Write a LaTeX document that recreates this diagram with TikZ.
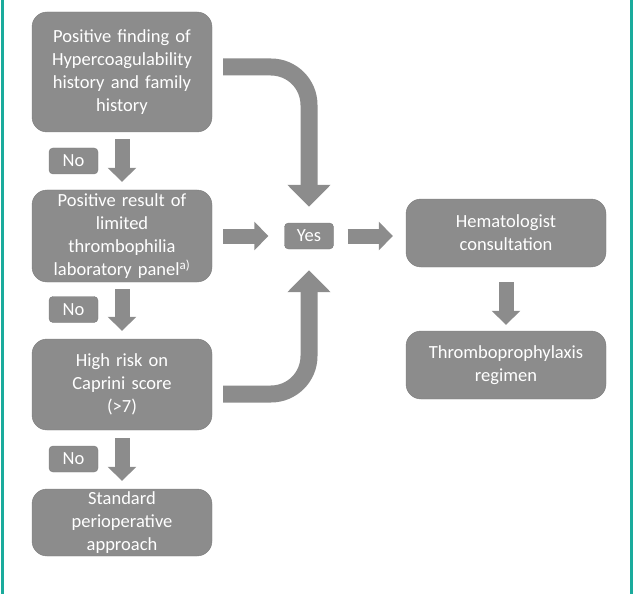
\documentclass[tikz,border=0pt]{standalone}
\usepackage{fontspec}
\setmainfont{Carlito}
\usetikzlibrary{arrows.meta}
\definecolor{boxgray}{HTML}{8C8C8C}
\definecolor{edgegray}{HTML}{7C7C7C}
\definecolor{frameteal}{HTML}{1AAB9C}
\newcommand{\boxfont}{\fontsize{18.5}{23}\selectfont}

\begin{document}
\begin{tikzpicture}[x=1pt,y=-1pt]
                \useasboundingbox (0,0) rectangle (633,594);
                \draw[frameteal,line width=3pt] (2.5,0) -- (2.5,594);
                \draw[frameteal,line width=3pt] (631.5,0) -- (631.5,594);

                \begin{scope}[every node/.style={draw=edgegray,fill=boxgray,text=white,
                    rounded corners=15pt,inner sep=0pt,align=center,font=\boxfont}]
                    \node[text width=180pt,minimum height=120pt] (hist) at (122,72)
                        {Positive finding of\\Hypercoagulability\\history and family\\history};
                    \node[text width=180pt,minimum height=92pt] (lab) at (122,236)
                        {Positive result of\\limited\\thrombophilia\\laboratory panel\textsuperscript{a)}};
                    \node[text width=180pt,minimum height=91pt] (caprini) at (122,384.5)
                        {High risk on\\Caprini score\\(>7)};
                    \node[text width=180pt,minimum height=67pt] (std) at (122,522.5)
                        {Standard\\perioperative\\approach};
                    \node[text width=200pt,minimum height=68pt] (hem) at (506,233)
                        {Hematologist\\consultation};
                    \node[text width=200pt,minimum height=68pt] (proph) at (506,365)
                        {Thromboprophylaxis\\regimen};
                \end{scope}

                \begin{scope}[every node/.style={draw=edgegray,fill=boxgray,text=white,
                    rounded corners=4pt,inner sep=0pt,minimum width=49pt,minimum height=26pt,font=\boxfont}]
                    \node (no1) at (73.5,161) {No};
                    \node (no2) at (73.5,309.5) {No};
                    \node (no3) at (73.5,459) {No};
                    \node (yes) at (309,236) {Yes};
                \end{scope}

                \begin{scope}[>={Triangle[width=28pt,length=14pt]},
                    every edge/.style={draw=boxgray,line width=15pt}]
                    \path [->,shorten <=7pt,shorten >=8pt] (hist) edge (lab);
                    \path [->,shorten <=7pt,shorten >=8pt] (lab) edge (caprini);
                    \path [->,shorten <=8pt,shorten >=8pt] (caprini) edge (std);

                    \path [->,shorten <=11pt,shorten >=16pt] (lab) edge (yes);
                    \path [->,shorten <=14pt,shorten >=13pt] (yes) edge (yes -| hem.west);

                    \path [->,shorten <=15pt,shorten >=6pt] (hem) edge (proph);
                \end{scope}

                \begin{scope}[>={Triangle[width=42pt,length=22pt]},
                    every path/.style={draw=boxgray,line width=17pt,rounded corners=38pt}]
                    \path [->] ([xshift=11pt,yshift=5pt]hist.east) -| ([yshift=16pt]yes.north);
                    \path [->] ([xshift=11pt,yshift=-9.5pt]caprini.east) -| ([yshift=-21pt]yes.south);
                \end{scope}
            \end{tikzpicture}
\end{document}
